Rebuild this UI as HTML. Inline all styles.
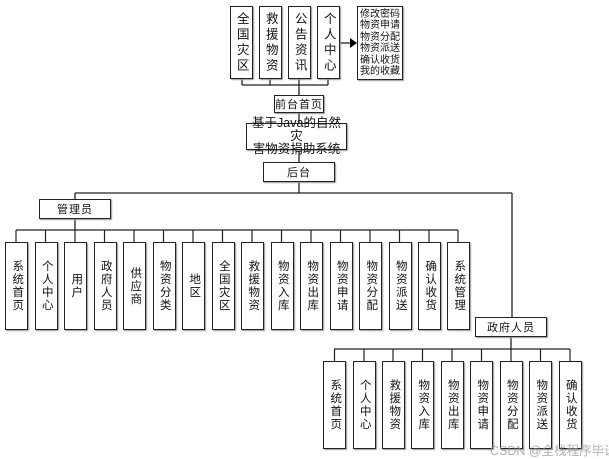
<!DOCTYPE html>
<html><head><meta charset="utf-8"><style>
body{margin:0;width:609px;height:458px;background:#fff;position:relative;overflow:hidden;font-family:"Liberation Sans","Noto Sans CJK SC",sans-serif;}
.b{position:absolute;border:1px solid #222;background:#fff;box-sizing:border-box;box-shadow:1px 1px 1px #999;display:flex;align-items:center;justify-content:center;font-size:11.5px;color:#111;}
.v{writing-mode:vertical-rl;letter-spacing:1.5px;line-height:1;}
.h{font-size:11px;letter-spacing:1px;}
svg{position:absolute;left:0;top:0;}
</style></head><body>
<svg width="609" height="458">
<g stroke="#222" stroke-width="1.3" fill="none">
<path d="M242 79V85M270 79V85M299 79V85M328 79V85M242 85H328M299 85V95M299 113V123M299 150V162"/>
<path d="M340 43H350"/>
<path d="M299 182V193M75 193H512M75 193V199M75 219V230M512 193V317M16 230H458M511 337V349M334 349H570"/>
</g>
<polygon points="350,38 357,43 350,48" fill="#000"/>
<g stroke="#222" stroke-width="1.2">
<line x1="16" y1="230" x2="16" y2="242"/><line x1="45.5" y1="230" x2="45.5" y2="242"/><line x1="75" y1="230" x2="75" y2="242"/><line x1="104.5" y1="230" x2="104.5" y2="242"/><line x1="134" y1="230" x2="134" y2="242"/><line x1="163.5" y1="230" x2="163.5" y2="242"/><line x1="193" y1="230" x2="193" y2="242"/><line x1="222.5" y1="230" x2="222.5" y2="242"/><line x1="252" y1="230" x2="252" y2="242"/><line x1="281.5" y1="230" x2="281.5" y2="242"/><line x1="311" y1="230" x2="311" y2="242"/><line x1="340.5" y1="230" x2="340.5" y2="242"/><line x1="370" y1="230" x2="370" y2="242"/><line x1="399.5" y1="230" x2="399.5" y2="242"/><line x1="429" y1="230" x2="429" y2="242"/><line x1="458" y1="230" x2="458" y2="242"/>
<line x1="334.5" y1="349" x2="334.5" y2="361"/><line x1="364" y1="349" x2="364" y2="361"/><line x1="393" y1="349" x2="393" y2="361"/><line x1="422.5" y1="349" x2="422.5" y2="361"/><line x1="452" y1="349" x2="452" y2="361"/><line x1="481.5" y1="349" x2="481.5" y2="361"/><line x1="511" y1="349" x2="511" y2="361"/><line x1="540.5" y1="349" x2="540.5" y2="361"/><line x1="570" y1="349" x2="570" y2="361"/>
</g>
</svg>
<div class="b v" style="left:230px;top:6px;width:23px;height:73px;font-size:12.5px;letter-spacing:3px">全国灾区</div>
<div class="b v" style="left:259px;top:6px;width:23px;height:73px;font-size:12.5px;letter-spacing:3px">救援物资</div>
<div class="b v" style="left:288px;top:6px;width:23px;height:73px;font-size:12.5px;letter-spacing:3px">公告资讯</div>
<div class="b v" style="left:317px;top:6px;width:23px;height:73px;font-size:12.5px;letter-spacing:3px">个人中心</div>
<div class="b" style="left:357px;top:6px;width:46px;height:74px;font-size:10px;line-height:11.5px;text-align:center;letter-spacing:0">修改密码<br>物资申请<br>物资分配<br>物资派送<br>确认收货<br>我的收藏</div>
<div class="b h" style="left:274px;top:95px;width:50px;height:18px">前台首页</div>
<div class="b" style="left:246px;top:123px;width:101px;height:27px;font-size:12.5px;line-height:13px;text-align:center">基于Java的自然灾<br>害物资捐助系统</div>
<div class="b h" style="left:263px;top:162px;width:72px;height:20px">后台</div>
<div class="b h" style="left:39px;top:199px;width:72px;height:20px">管理员</div>
<div class="b h" style="left:475px;top:317px;width:72px;height:20px">政府人员</div>
<div class="b v" style="left:5px;top:242px;width:23px;height:88px">系统首页</div>
<div class="b v" style="left:34.5px;top:242px;width:23px;height:88px">个人中心</div>
<div class="b v" style="left:64px;top:242px;width:23px;height:88px">用户</div>
<div class="b v" style="left:93.5px;top:242px;width:23px;height:88px">政府人员</div>
<div class="b v" style="left:123px;top:242px;width:23px;height:88px">供应商</div>
<div class="b v" style="left:152.5px;top:242px;width:23px;height:88px">物资分类</div>
<div class="b v" style="left:182px;top:242px;width:23px;height:88px">地区</div>
<div class="b v" style="left:211.5px;top:242px;width:23px;height:88px">全国灾区</div>
<div class="b v" style="left:241px;top:242px;width:23px;height:88px">救援物资</div>
<div class="b v" style="left:270.5px;top:242px;width:23px;height:88px">物资入库</div>
<div class="b v" style="left:300px;top:242px;width:23px;height:88px">物资出库</div>
<div class="b v" style="left:329.5px;top:242px;width:23px;height:88px">物资申请</div>
<div class="b v" style="left:359px;top:242px;width:23px;height:88px">物资分配</div>
<div class="b v" style="left:388.5px;top:242px;width:23px;height:88px">物资派送</div>
<div class="b v" style="left:418px;top:242px;width:23px;height:88px">确认收货</div>
<div class="b v" style="left:447px;top:242px;width:23px;height:88px">系统管理</div>
<div class="b v" style="left:323px;top:361px;width:23px;height:88px">系统首页</div>
<div class="b v" style="left:352.5px;top:361px;width:23px;height:88px">个人中心</div>
<div class="b v" style="left:382px;top:361px;width:23px;height:88px">救援物资</div>
<div class="b v" style="left:411px;top:361px;width:23px;height:88px">物资入库</div>
<div class="b v" style="left:440.5px;top:361px;width:23px;height:88px">物资出库</div>
<div class="b v" style="left:470px;top:361px;width:23px;height:88px">物资申请</div>
<div class="b v" style="left:499.5px;top:361px;width:23px;height:88px">物资分配</div>
<div class="b v" style="left:529px;top:361px;width:23px;height:88px">物资派送</div>
<div class="b v" style="left:558.5px;top:361px;width:23px;height:88px">确认收货</div>
<div style="position:absolute;left:490px;top:440px;font-size:12.5px;color:rgba(150,150,150,0.75);white-space:nowrap">CSDN @全栈程序毕设</div>
</body></html>
